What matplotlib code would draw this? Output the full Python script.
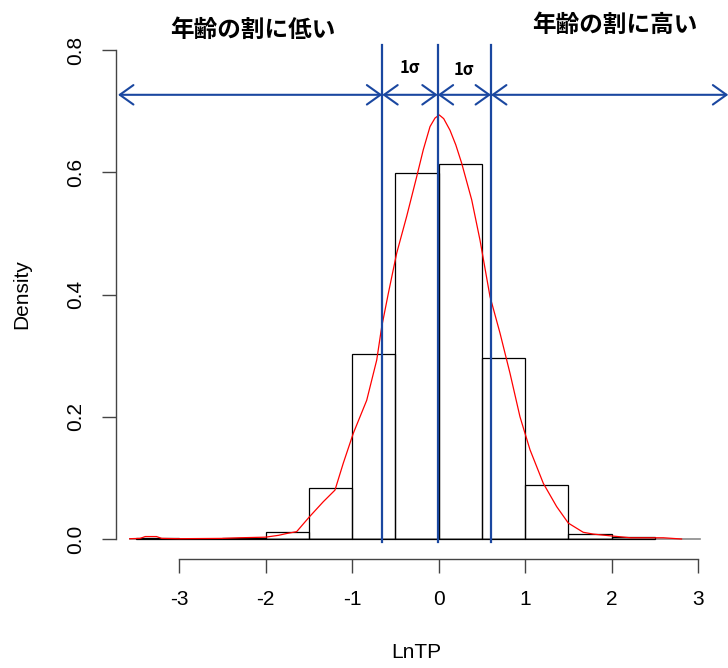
import numpy as np
import matplotlib
matplotlib.use("Agg")
import matplotlib.pyplot as plt

# histogram of LnTP (density scale), bins of width 0.5
bin_edges = [-3.5, -3.0, -2.5, -2.0, -1.5, -1.0, -0.5, 0.0, 0.5, 1.0, 1.5, 2.0, 2.5]
bin_density = [0.001, 0.0, 0.002, 0.011, 0.083, 0.303, 0.599, 0.613, 0.297, 0.088, 0.009, 0.003]

# kernel density curve
dens_x = [-3.57, -3.45, -3.39, -3.33, -3.26, -3.2, -3.0, -2.5, -2.3, -2.0, -1.85,
          -1.755, -1.64, -1.494, -1.332, -1.197, -1.101, -0.985, -0.830, -0.714,
          -0.657, -0.580, -0.483, -0.368, -0.252, -0.176, -0.098, -0.04, 0.009, 0.06,
          0.133, 0.2, 0.268, 0.384, 0.480, 0.595, 0.711, 0.827, 0.942, 1.058, 1.212,
          1.366, 1.501, 1.673, 1.79, 2.0, 2.22, 2.4, 2.6, 2.81]
dens_y = [0.0005, 0.001, 0.004, 0.004, 0.004, 0.001, 0.0005, 0.001, 0.002, 0.003, 0.006,
          0.009, 0.012, 0.036, 0.061, 0.080, 0.124, 0.173, 0.227, 0.293,
          0.347, 0.402, 0.468, 0.528, 0.593, 0.637, 0.675, 0.689, 0.694, 0.688,
          0.669, 0.645, 0.615, 0.555, 0.489, 0.397, 0.337, 0.271, 0.200, 0.146, 0.091,
          0.053, 0.026, 0.011, 0.008, 0.005, 0.002, 0.002, 0.002, 0.0]

# mean and +-1 sigma positions
sigma_lines = [-0.650, -0.009, 0.607]
arrow_y = 0.727
arrow_left, arrow_right = -3.705, 3.35

x_ticks = [-3, -2, -1, 0, 1, 2, 3]
y_ticks = [0.0, 0.2, 0.4, 0.6, 0.8]

label_low = "年齢の割に低い"
label_high = "年齢の割に高い"
blue = "#1a47a0"

W, H = 728, 668
# pixel calibration of the plot region
px_x0, px_per_x = 438.5, 86.5
px_y0, px_per_y = 539.0, 611.0
left_px, right_px, top_px, bottom_px = 116, 728, 20, 559

fig = plt.figure(figsize=(W / 100, H / 100), dpi=100)
ax = fig.add_axes([left_px / W, 1 - bottom_px / H,
                   (right_px - left_px) / W, (bottom_px - top_px) / H])
ax.set_xlim((left_px - px_x0) / px_per_x, (right_px - px_x0) / px_per_x)
ax.set_ylim((px_y0 - bottom_px) / px_per_y, (px_y0 - top_px) / px_per_y)

tick_font = {"family": "Liberation Sans", "size": 15}
jp_font = ["Noto Sans CJK JP", "DejaVu Sans"]

# gray zero line, histogram, density
ax.plot([-3.57, 3.02], [0, 0], color="#8a8a8a", lw=1.2, zorder=1)
widths = np.diff(bin_edges)
ax.bar(bin_edges[:-1], bin_density, width=widths, align="edge",
       facecolor="none", edgecolor="black", linewidth=0.9, zorder=2)
ax.plot(dens_x, dens_y, color="red", lw=0.9, zorder=3)

for x in sigma_lines:
    ax.plot([x, x], [-0.005, 0.808], color=blue, lw=1.6, zorder=4, clip_on=False)

stops = [arrow_left] + sigma_lines + [arrow_right]
for a, b in zip(stops[:-1], stops[1:]):
    ax.annotate("", xy=(b, arrow_y), xytext=(a, arrow_y),
                arrowprops=dict(arrowstyle="<->,head_length=0.7,head_width=0.5",
                                color=blue, lw=1.5, shrinkA=0, shrinkB=0,
                                mutation_scale=14),
                annotation_clip=False, zorder=5)

ax.text(-0.33, 0.771, "1σ", family=jp_font, weight="bold", size=12,
        ha="center", va="center")
ax.text(0.295, 0.768, "1σ", family=jp_font, weight="bold", size=12,
        ha="center", va="center")
ax.text(-2.145, 0.833, label_low, family=jp_font, weight="bold", size=17,
        ha="center", va="center", clip_on=False)
ax.text(2.04, 0.841, label_high, family=jp_font, weight="bold", size=17,
        ha="center", va="center", clip_on=False)

# R-style axes
for s in ["top", "right"]:
    ax.spines[s].set_visible(False)
ax.spines["left"].set_bounds(0, 0.8)
ax.spines["bottom"].set_bounds(-3, 3)
for s in ["left", "bottom"]:
    ax.spines[s].set_color("#444444")
    ax.spines[s].set_linewidth(1.0)
ax.set_xticks(x_ticks)
ax.set_xticklabels([str(t) for t in x_ticks], fontdict=tick_font)
ax.set_yticks(y_ticks)
ax.set_yticklabels([f"{t:.1f}" for t in y_ticks], fontdict=tick_font,
                   rotation=90, va="center")
ax.tick_params(direction="out", length=10, width=1.0, color="#444444", pad=12)

fig.text(416 / W, 1 - 652 / H, "LnTP", ha="center", va="center",
         family="Liberation Sans", size=15)
fig.text(22 / W, 1 - 294 / H, "Density", ha="center", va="center",
         rotation=90, family="Liberation Sans", size=15)

fig.savefig("out.png", dpi=100)
